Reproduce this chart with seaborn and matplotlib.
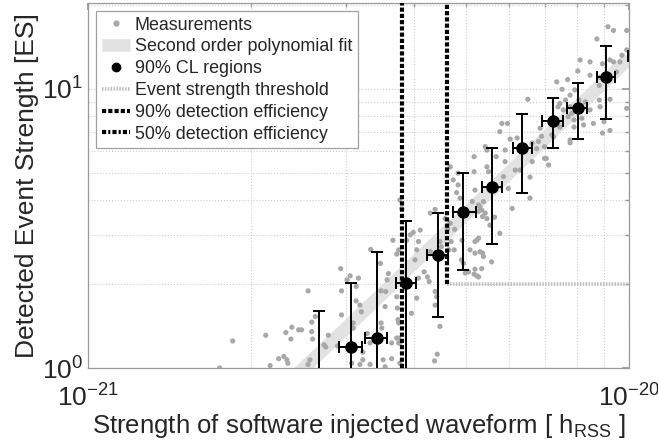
import numpy as np
import pandas as pd
import matplotlib
matplotlib.use("Agg")
import matplotlib.pyplot as plt
import seaborn as sns
from matplotlib.lines import Line2D
from matplotlib.ticker import NullFormatter

# injected strength in units of 1e-21 hrss, detected event strength in ES
meas_x = [1.85, 1.75, 2.13, 2.32, 2.38, 2.45, 2.37, 2.25, 2.30, 2.33, 2.34, 2.17,
          3.33, 3.66, 3.72, 2.93, 3.05, 3.01, 3.16, 3.13, 2.94, 2.55, 3.47, 3.59,
          3.57, 3.48, 3.55, 3.72, 3.13, 3.18, 3.20, 2.94, 2.63, 2.59, 3.09, 3.09,
          2.59, 2.48, 2.60, 2.78, 2.73, 2.75, 2.89, 3.28, 3.32, 3.48, 3.49, 3.64,
          3.72, 3.75, 3.22, 3.22, 3.32, 3.18, 3.07, 3.51, 3.64, 3.54, 2.57, 2.55,
          3.54, 3.73, 3.74,
          5.17, 4.73, 4.83, 4.80, 4.87, 5.13, 5.38, 5.27, 5.36, 3.77, 3.80, 4.38,
          4.29, 4.57, 4.67, 4.62, 4.76, 4.11, 3.94, 3.99, 4.08, 4.47, 4.50, 4.69,
          4.64, 4.05, 4.29, 4.75, 4.91, 5.19, 5.27, 5.08, 5.19, 5.36, 4.90, 4.94,
          5.34, 5.19, 5.05, 5.17, 5.23, 4.98, 4.18, 4.08, 4.27, 4.24, 4.02, 4.38,
          4.05, 4.41, 4.38, 3.96, 4.47, 3.75, 3.75, 3.77, 4.42, 4.37, 3.77, 3.75,
          3.88, 4.83, 4.67,
          6.50, 5.82, 5.96, 5.77, 6.21, 6.03, 5.90, 5.42, 5.46, 5.17, 6.62, 6.85,
          6.89, 6.80, 6.75, 6.62, 7.03, 5.68, 5.90, 5.46, 5.50, 6.16, 6.29, 5.86,
          6.56, 5.19, 5.98, 6.56, 6.08, 5.30, 5.34, 5.42, 5.46, 5.64, 5.27, 5.53,
          5.77, 5.23, 5.30, 5.38, 5.57, 5.27,
          9.14, 9.36, 9.90, 8.72, 9.90, 9.70, 8.12, 8.47, 9.22, 9.36, 8.93, 9.62,
          8.04, 8.47, 7.35, 7.70, 8.83, 8.81, 7.52, 7.94, 7.78, 8.08, 8.30, 7.63,
          7.45, 7.39, 7.56, 7.78, 7.84, 7.72, 7.91, 8.47, 8.81, 9.22, 8.84, 9.90,
          8.18, 8.24, 8.59, 8.99, 7.39, 7.45, 7.91, 7.20, 7.25, 7.78, 7.78, 8.93,
          9.22, 6.98, 6.98, 7.10, 9.48]
meas_y = [1.25, 1.00, 1.31, 1.34, 1.40, 1.37, 1.27, 1.08, 1.10, 1.07, 1.04, 1.02,
          2.66, 2.87, 2.56, 2.27, 2.14, 2.07, 2.10, 1.96, 1.89, 1.89, 2.37, 2.18,
          2.07, 1.89, 1.88, 1.80, 1.74, 1.68, 1.59, 1.55, 1.53, 1.46, 1.45, 1.39,
          1.35, 1.37, 1.27, 1.31, 1.21, 1.19, 1.20, 1.33, 1.23, 1.45, 1.39, 1.23,
          1.28, 1.23, 1.14, 1.07, 1.03, 1.03, 1.04, 1.07, 1.08, 1.01, 1.07, 1.03,
          1.66, 1.64, 1.49,
          5.05, 4.72, 4.53, 4.25, 4.06, 3.95, 3.95, 3.64, 3.49, 4.00, 3.73, 3.70,
          3.59, 3.43, 3.30, 3.16, 3.14, 3.12, 3.00, 3.06, 2.84, 2.84, 2.72, 2.84,
          2.65, 2.65, 2.61, 2.65, 2.87, 2.84, 2.92, 2.65, 2.58, 2.58, 2.44, 2.37,
          2.27, 2.26, 2.21, 2.17, 2.14, 2.19, 2.21, 2.10, 2.04, 2.12, 2.44, 1.88,
          1.78, 1.80, 1.68, 1.57, 1.41, 1.45, 1.28, 1.23, 1.12, 1.06, 1.04, 2.65,
          2.87, 4.99, 5.26,
          9.18, 7.52, 7.52, 7.03, 6.67, 6.61, 6.04, 6.21, 6.04, 5.72, 6.40, 7.23,
          6.76, 6.48, 6.11, 5.49, 5.64, 5.72, 5.49, 5.26, 5.05, 5.12, 5.12, 4.85,
          4.83, 4.34, 4.40, 4.06, 3.73, 3.78, 3.68, 3.59, 3.43, 3.47, 3.84, 3.25,
          3.04, 2.87, 2.61, 2.51, 2.40, 2.12,
          16.7, 16.2, 16.2, 15.1, 13.8, 13.2, 12.7, 12.5, 12.7, 12.5, 12.3, 12.5,
          11.6, 11.2, 10.6, 10.8, 11.0, 10.3, 9.97, 9.92, 9.50, 9.13, 8.99, 9.13,
          8.87, 8.63, 8.41, 8.63, 8.18, 7.96, 7.74, 8.41, 9.13, 9.18, 8.63, 8.52,
          7.85, 7.43, 7.52, 7.63, 7.52, 7.30, 7.30, 6.85, 6.73, 6.56, 6.41, 6.95,
          7.10, 6.21, 5.64, 5.34, 11.5]

# second order polynomial fit (read along the grey band)
fit_x = [2.45, 3.0, 3.5, 4.0, 5.0, 6.0, 7.0, 8.0, 9.0, 10.0]
fit_y = [0.96, 1.39, 1.85, 2.37, 3.57, 5.00, 6.65, 8.53, 10.6, 12.9]

# 90% CL regions
cl_x = [2.67, 3.06, 3.42, 3.87, 4.44, 4.94, 5.57, 6.35, 7.23, 8.03, 9.07, 10.6]
cl_xlo = [2.67, 2.91, 3.25, 3.71, 4.24, 4.73, 5.34, 6.09, 6.90, 7.67, 8.71, 9.95]
cl_xhi = [2.67, 3.21, 3.57, 4.03, 4.63, 5.21, 5.82, 6.61, 7.56, 8.37, 9.42, 11.3]
cl_y = [0.85, 1.19, 1.28, 2.01, 2.54, 3.61, 4.47, 6.16, 7.69, 8.54, 11.07, 13.1]
cl_ylo = [0.50, 0.80, 0.80, 0.90, 1.52, 2.25, 2.78, 4.25, 6.12, 6.60, 7.82, 10.0]
cl_yhi = [1.60, 2.02, 2.60, 3.36, 3.58, 4.99, 6.15, 8.12, 9.30, 10.47, 14.3, 17.0]

threshold = 2.0
eff50 = 3.80
eff90 = 4.60

scale = 1e-21
df = pd.DataFrame({"h": np.array(meas_x) * scale, "es": meas_y})
fit = pd.DataFrame({"h": np.array(fit_x) * scale, "es": fit_y})

sns.set_theme(style="white")
plt.rcParams['font.family'] = ['Liberation Sans', 'DejaVu Sans']
plt.rcParams['mathtext.fontset'] = 'custom'
plt.rcParams['mathtext.rm'] = 'Liberation Sans'
plt.rcParams['mathtext.it'] = 'Liberation Sans:italic'
plt.rcParams['axes.unicode_minus'] = False

fig = plt.figure(figsize=(6.58, 4.45), dpi=100)
ax = fig.add_axes([0.134, 0.173, 0.822, 0.820])
ax.set_xscale("log")
ax.set_yscale("log")

grey_dot = "#a8a8a8"
band = "#e2e2e2"
thr_col = "#bcbcbc"

sns.scatterplot(data=df, x="h", y="es", ax=ax, color=grey_dot, s=14,
                edgecolor="none", zorder=2, legend=False)
sns.lineplot(data=fit, x="h", y="es", ax=ax, color=band, lw=9.5,
             solid_capstyle="butt", zorder=1, legend=False)

# threshold (from the 90% efficiency line to the right edge)
ax.plot([eff90 * scale, 1e-20], [threshold, threshold], color=thr_col,
        lw=2.6, ls=(0, (0.4, 0.4)), zorder=1.5)

# detection efficiency lines
ax.axvline(eff50 * scale, color="black", lw=3, ls=(0, (1, 0.5)), zorder=3)
ax.plot([eff90 * scale, eff90 * scale], [threshold, 30], color="black",
        lw=3, ls=(0, (1, 0.5)), zorder=3)

cx = np.array(cl_x) * scale
xerr = [cx - np.array(cl_xlo) * scale, np.array(cl_xhi) * scale - cx]
yerr = [np.array(cl_y) - np.array(cl_ylo), np.array(cl_yhi) - np.array(cl_y)]
ax.errorbar(cx, cl_y, xerr=xerr, yerr=yerr, fmt="o", color="black",
            ms=8, lw=1.4, capsize=4, capthick=1.4, zorder=4)

ax.set_xlim(1e-21, 1e-20)
ax.set_ylim(1, 20.3)
ax.xaxis.set_minor_formatter(NullFormatter())
ax.yaxis.set_minor_formatter(NullFormatter())

ax.grid(True, which="both", color="#cfcfcf", ls=":", lw=0.8)
for s in ax.spines.values():
    s.set_color("#9a9a9a")
    s.set_linewidth(0.9)
ax.tick_params(which="both", direction="in", top=True, right=True,
               color="#9a9a9a", labelsize=19)
ax.tick_params(which="major", length=5)
ax.tick_params(which="minor", length=3)
ax.tick_params(axis="x", pad=12)

ax.set_xlabel(r"Strength of software injected waveform [ h$_{\mathregular{RSS}}$ ]",
              fontsize=18.5, labelpad=0)
ax.set_ylabel("Detected Event Strength [ES]", fontsize=19, labelpad=2)

handles = [
    Line2D([], [], ls="none", marker="o", ms=3.5, color=grey_dot),
    Line2D([], [], color=band, lw=9, solid_capstyle="butt"),
    Line2D([], [], ls="none", marker="o", ms=6, color="black"),
    Line2D([], [], color=thr_col, lw=2.6, ls=(0, (0.4, 0.4))),
    Line2D([], [], color="black", lw=3, ls=(0, (1, 0.5))),
    Line2D([], [], color="black", lw=3, ls=(0, (1, 0.5, 0.5, 0.5))),
]
labels = ["Measurements", "Second order polynomial fit", "90% CL regions",
          "Event strength threshold", "90% detection efficiency",
          "50% detection efficiency"]
leg = ax.legend(handles, labels, loc="upper left", fontsize=12.9,
                handlelength=1.6, handletextpad=0.25, labelspacing=0.27,
                borderaxespad=0.45, borderpad=0.3, fancybox=False,
                framealpha=1, edgecolor="#a0a0a0")
leg.get_frame().set_linewidth(0.9)

fig.savefig("out.png", dpi=100)
